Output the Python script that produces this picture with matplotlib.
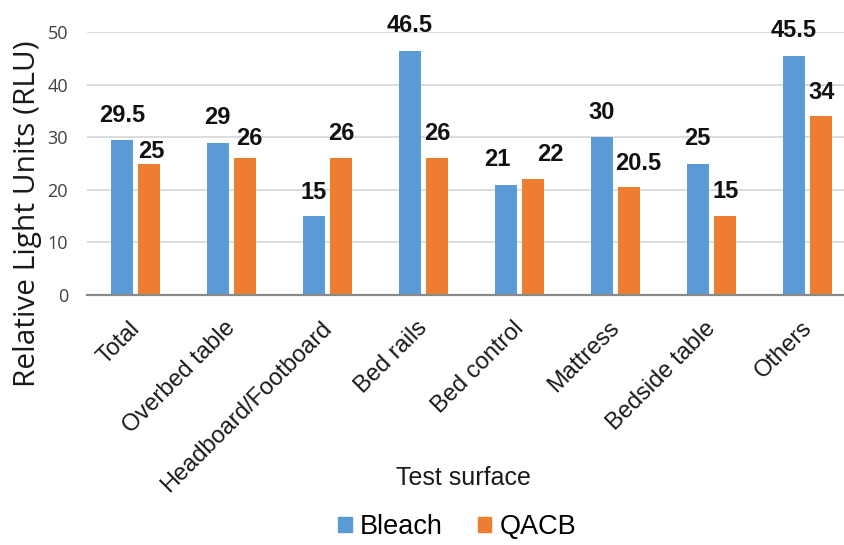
import matplotlib
matplotlib.use("Agg")
import matplotlib.pyplot as plt
import matplotlib.transforms as mtransforms
from matplotlib.patches import Patch
import numpy as np

# Data
surfaces = ["Total", "Overbed table", "Headboard/Footboard", "Bed rails",
            "Bed control", "Mattress", "Bedside table", "Others"]
bleach = [29.5, 29, 15, 46.5, 21, 30, 25, 45.5]
qacb = [25, 26, 26, 26, 22, 20.5, 15, 34]
series_names = ["Bleach", "QACB"]
y_ticks = [0, 10, 20, 30, 40, 50]

BLUE = "#5B9BD5"
ORANGE = "#ED7D31"
ARIAL = "Liberation Sans"
HUMANIST = "Open Sans"

# Label nudges in pixels (dx, dy above bar top)
bleach_label_off = [(0, 25), (0, 25), (0, 24), (0, 25), (-8, 25), (0, 25), (0, 25), (0, 25)]
qacb_label_off = [(2, 12), (4, 20), (0, 25), (0, 25), (17, 25), (9, 24), (0, 25), (0, 24)]

W, H = 845, 545
fig = plt.figure(figsize=(W / 100, H / 100), dpi=100)
ax = fig.add_axes([87.5 / W, (H - 295) / H, 768 / W, 262.7 / H])

x = np.arange(len(surfaces))
bw = 0.224
off = 0.143
ax.bar(x - off, bleach, width=bw, color=BLUE, zorder=3)
ax.bar(x + off, qacb, width=bw, color=ORANGE, zorder=3)

for xi, v, (dx, dy) in zip(x - off, bleach, bleach_label_off):
    ax.annotate(f"{v:g}", (xi, v), xytext=(dx, dy), textcoords="offset pixels",
                ha="center", va="center", fontsize=17, fontweight="bold",
                family=ARIAL, color="#111111")
for xi, v, (dx, dy) in zip(x + off, qacb, qacb_label_off):
    ax.annotate(f"{v:g}", (xi, v), xytext=(dx, dy), textcoords="offset pixels",
                ha="center", va="center", fontsize=17, fontweight="bold",
                family=ARIAL, color="#111111")

ax.set_xlim(-0.5, len(surfaces) - 0.5)
ax.set_ylim(0, 50)
ax.set_yticks(y_ticks)
ax.set_yticklabels([str(t) for t in y_ticks], family=HUMANIST, fontsize=13,
                   color="#404040")
ax.tick_params(axis="y", length=0, pad=14)
ax.yaxis.grid(True, color="#d9d9d9", linewidth=1.3, zorder=0)
ax.set_axisbelow(True)
for s in ["top", "right", "left"]:
    ax.spines[s].set_visible(False)
ax.spines["bottom"].set_color("#8a8a8a")
ax.spines["bottom"].set_linewidth(1.6)
ax.spines["bottom"].set_zorder(4)

ax.set_xticks(x)
ax.set_xticklabels(surfaces, rotation=45, ha="right", va="top",
                   rotation_mode="anchor", family=ARIAL, fontsize=17,
                   color="#1a1a1a")
ax.tick_params(axis="x", length=0, pad=16)
shift = mtransforms.ScaledTranslation(-7 / 100, 0, fig.dpi_scale_trans)
for lbl in ax.get_xticklabels():
    lbl.set_transform(lbl.get_transform() + shift)

fig.text(28 / W, 1 - 214 / H, "Relative Light Units (RLU)", rotation=90,
         ha="center", va="center", family=HUMANIST, fontsize=21.5,
         color="#1a1a1a")
fig.text(463 / W, 1 - 478 / H, "Test surface", ha="center", va="center",
         family=ARIAL, fontsize=18, color="#1a1a1a")

handles = [Patch(color=BLUE), Patch(color=ORANGE)]
fig.legend(handles, series_names, loc="center",
           bbox_to_anchor=(457 / W, 1 - 527 / H), ncol=2, frameon=False,
           prop={"family": ARIAL, "size": 19.5}, handlelength=0.5,
           handleheight=0.5, handletextpad=0.3, columnspacing=1.3)

fig.savefig("out.png", dpi=100)
